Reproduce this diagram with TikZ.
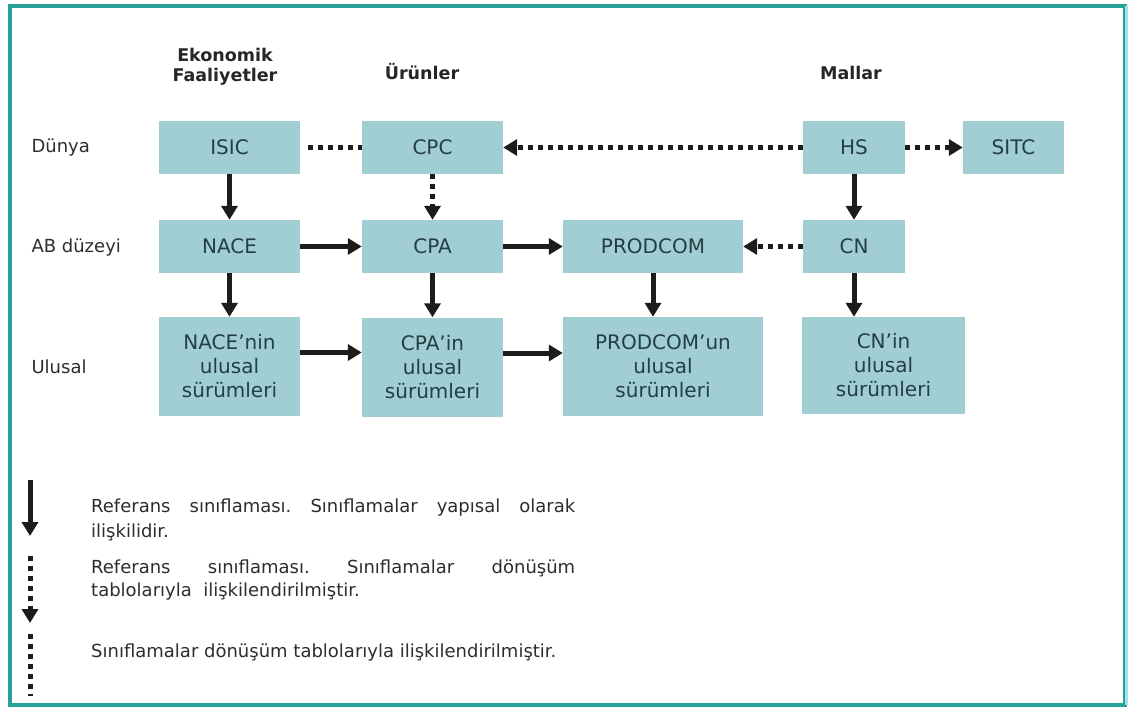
\documentclass[tikz,border=0pt]{standalone}
\usepackage{fontspec}
\setmainfont{DejaVu Sans}
\usepackage{tikz}
\usetikzlibrary{arrows.meta,positioning}

\definecolor{frameteal}{RGB}{38,160,152}
\definecolor{framelight}{RGB}{160,228,232}
\definecolor{boxfill}{RGB}{160,206,210}
\definecolor{boxtext}{RGB}{36,62,70}
\definecolor{arrowcol}{RGB}{28,28,28}
\definecolor{labeltext}{RGB}{45,45,45}

\frenchspacing

\begin{document}
\begin{tikzpicture}[
        x=1pt, y=-1pt,
        % define styles
        cls/.style={
            fill=boxfill,
            text=boxtext,
            font=\fontsize{20}{24}\selectfont,
            align=center,
            inner sep=0pt,
            minimum height=53pt
        },
        natbox/.style={
            cls,
            minimum height=99pt
        },
        rowlab/.style={
            anchor=west,
            text=labeltext,
            font=\fontsize{18}{22}\selectfont
        },
        head/.style={
            text=black!85,
            font=\bfseries\fontsize{17.5}{20}\selectfont,
            align=center,
            inner sep=0pt
        },
        legtext/.style={
            anchor=base west,
            inner sep=0pt,
            text=labeltext,
            font=\fontsize{18}{24}\selectfont
        },
        link/.style={
            line width=5pt,
            draw=arrowcol
        },
        dotlink/.style={
            link,
            dash pattern=on 5pt off 5pt
        },
        >={Triangle[length=14pt,width=16pt]}
    ]
    \useasboundingbox (0,0) rectangle (1130,709);

    % frame
    \draw[frameteal, line width=4pt] (9.5,6) rectangle (1125,705);
    \draw[framelight, line width=3pt] (1126,6) -- (1126,705);

    % column headings
    \node[head] (hecon) at (225,67) {Ekonomik\\Faaliyetler};
    \node[head, anchor=base] (hprod) at (422,80) {Ürünler};
    \node[head, anchor=base] (hgood) at (851,80) {Mallar};

    % row headings
    \node[rowlab] (rworld) at (28,148) {Dünya};
    \node[rowlab] (reu) at (28,248) {AB düzeyi};
    \node[rowlab] (rnat) at (28,367) {Ulusal};

    % world level
    \node[cls, minimum width=141pt] (isic) at (229.5,147.5) {ISIC};
    \node[cls, minimum width=141pt] (cpc) at (432.5,147.5) {CPC};
    \node[cls, minimum width=102pt] (hs) at (854,147.5) {HS};
    \node[cls, minimum width=101pt] (sitc) at (1013.5,147.5) {SITC};

    % EU level
    \node[cls, minimum width=141pt] (nace) at (229.5,246.5) {NACE};
    \node[cls, minimum width=141pt] (cpa) at (432.5,246.5) {CPA};
    \node[cls, minimum width=180pt] (prodcom) at (653,246.5) {PRODCOM};
    \node[cls, minimum width=102pt] (cn) at (854,246.5) {CN};

    % national level
    \node[natbox, minimum width=141pt] (nacenin) at (229.5,366.5) {NACE’nin\\ulusal\\sürümleri};
    \node[natbox, minimum width=141pt] (cpain) at (432.5,367) {CPA’in\\ulusal\\sürümleri};
    \node[natbox, minimum width=200pt] (prodcomun) at (663,366.5) {PRODCOM’un\\ulusal\\sürümleri};
    \node[natbox, minimum width=163pt, minimum height=97pt] (cnin) at (883.5,365.5) {CN’in\\ulusal\\sürümleri};

    % solid links between levels
    \foreach \a/\b in {isic/nace, hs/cn, nace/nacenin, cpa/cpain}
        \draw[link, ->] (\a) -- (\b);
    \foreach \a/\b in {prodcom/prodcomun, cn/cnin}
        \draw[link, ->] (\a.south) -- (\a.south |- \b.north);

    % solid links within a level
    \foreach \a/\b in {nace/cpa, cpa/prodcom}
        \draw[link, ->] (\a) -- (\b);
    \foreach \a/\b in {nacenin/cpain, cpain/prodcomun}
        \draw[link, ->] ([yshift=14pt]\a.east) -- ([yshift=14pt]\a.east -| \b.west);

    % dotted links
    \draw[dotlink, shorten <=8pt] (isic) -- (cpc);
    \foreach \a/\b in {cpc/cpa, hs/cpc, hs/sitc, cn/prodcom}
        \draw[dotlink, ->] (\a) -- (\b);

    % legend
    \coordinate (ka) at (30,480);
    \coordinate (kb) at (30,536);
    \coordinate (kc) at (30,556);
    \coordinate (kd) at (30,623);
    \coordinate (ke) at (30,634);
    \coordinate (kf) at (30,696);
    \draw[link, ->] (ka) -- (kb);
    \draw[dotlink, ->] (kc) -- (kd);
    \draw[dotlink] (ke) -- (kf);

    \node[legtext] (leg1) at (91,512) {\makebox[484pt][s]{Referans sınıflaması. Sınıflamalar yapısal olarak}};
    \node[legtext] (leg2) at (91,537) {ilişkilidir.};
    \node[legtext] (leg3) at (91,573) {\makebox[484pt][s]{Referans sınıflaması. Sınıflamalar dönüşüm}};
    \node[legtext] (leg4) at (91,596) {tablolarıyla\ \ ilişkilendirilmiştir.};
    \node[legtext] (leg5) at (91,657) {Sınıflamalar dönüşüm tablolarıyla ilişkilendirilmiştir.};

\end{tikzpicture}
\end{document}
